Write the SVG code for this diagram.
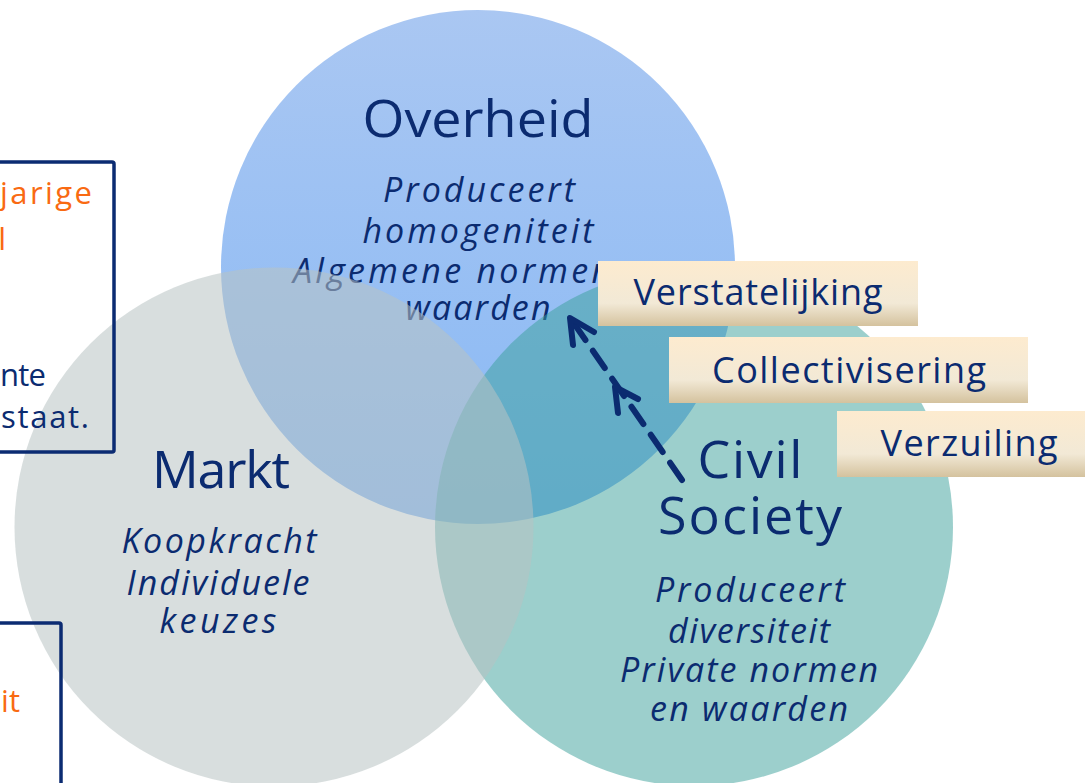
<svg xmlns="http://www.w3.org/2000/svg" width="1085" height="783" viewBox="0 0 1085 783">
<defs>
<linearGradient id="gOver" x1="0" y1="0" x2="0" y2="1">
<stop offset="0" stop-color="#AAC7F2"/>
<stop offset="1" stop-color="#87B8F5"/>
</linearGradient>
<linearGradient id="gLabel" x1="0" y1="0" x2="0" y2="1">
<stop offset="0" stop-color="#FDEBCF"/>
<stop offset="0.65" stop-color="#F2E9D6"/>
<stop offset="1" stop-color="#D4C29E"/>
</linearGradient>
<style>
.title{font-family:"Open Sans","Liberation Sans",sans-serif;font-size:52px;fill:#0B2B70;text-anchor:middle}
.sub{font-family:"Open Sans","Liberation Sans",sans-serif;font-size:34px;font-style:italic;fill:#0B2B70;text-anchor:middle}
.lab{font-family:"Open Sans","Liberation Sans",sans-serif;font-size:36px;fill:#0B2B70;text-anchor:middle}
.side{font-family:"Open Sans","Liberation Sans",sans-serif;font-size:31px;text-anchor:end}
.or{fill:#F96A12}
.nv{fill:#0B2B70}
.box{fill:url(#gLabel)}
.frame{fill:none;stroke:#0B2B72;stroke-width:3.5}
.arr{fill:none;stroke:#0B2B70;stroke-width:6;stroke-linecap:round;stroke-linejoin:round}
</style>
</defs>
<rect width="1085" height="783" fill="#FFFFFF"/>

<g id="overheid">
<circle cx="478" cy="267" r="257" fill="url(#gOver)"/>
<text class="title" x="478" y="137" textLength="231" lengthAdjust="spacingAndGlyphs">Overheid</text>
<text class="sub" x="479" y="202" textLength="192">Produceert</text>
<text class="sub" x="478" y="243" textLength="231">homogeniteit</text>
<text class="sub" x="293" y="283" style="text-anchor:start" textLength="318">Algemene normen</text>
<text class="sub" x="478" y="320" textLength="145">waarden</text>
</g>

<g id="civil-society">
<circle cx="694" cy="527" r="259" fill="#399F99" fill-opacity="0.5"/>
<text class="title" x="750" y="478" textLength="105">Civil</text>
<text class="title" x="750" y="534" textLength="184">Society</text>
<text class="sub" x="750" y="602" textLength="190">Produceert</text>
<text class="sub" x="749" y="643" textLength="162">diversiteit</text>
<text class="sub" x="749" y="682" textLength="258">Private normen</text>
<text class="sub" x="749" y="721" textLength="198">en waarden</text>
</g>

<g id="markt">
<circle cx="274" cy="527" r="259.5" fill="#B8C3C3" fill-opacity="0.55"/>
<text class="title" x="221" y="488" textLength="138">Markt</text>
<text class="sub" x="219" y="553" textLength="195">Koopkracht</text>
<text class="sub" x="218" y="595" textLength="183">Individuele</text>
<text class="sub" x="218" y="633" textLength="117">keuzes</text>
</g>

<g id="connectors">
<path class="arr" d="M682,480 L573,322" stroke-dasharray="21 13"/>
<polyline class="arr" points="573,345 570,318 594,332"/>
<polyline class="arr" points="618,413 615,387 638,399"/>
</g>

<g id="label-verstatelijking">
<rect class="box" x="598" y="261" width="320" height="65"/>
<text class="lab" x="758" y="305" textLength="249">Verstatelijking</text>
</g>
<g id="label-collectivisering">
<rect class="box" x="669" y="337" width="359" height="66"/>
<text class="lab" x="849" y="383" textLength="274">Collectivisering</text>
</g>
<g id="label-verzuiling">
<rect class="box" x="837" y="411" width="250" height="66"/>
<text class="lab" x="969" y="456" textLength="177">Verzuiling</text>
</g>

<g id="side-box-1">
<rect class="frame" x="-10" y="162" width="124" height="290" rx="2"/>
<text class="side or" x="92" y="204" textLength="92">jarige</text>
<text class="side or" x="6" y="250">l</text>
<text class="side nv" x="46" y="386" textLength="46">nte</text>
<text class="side nv" x="89" y="428" textLength="88">staat.</text>
</g>
<g id="side-box-2">
<rect class="frame" x="-10" y="623" width="71" height="180" rx="2"/>
<text class="side or" x="20" y="712">it</text>
</g>
</svg>
